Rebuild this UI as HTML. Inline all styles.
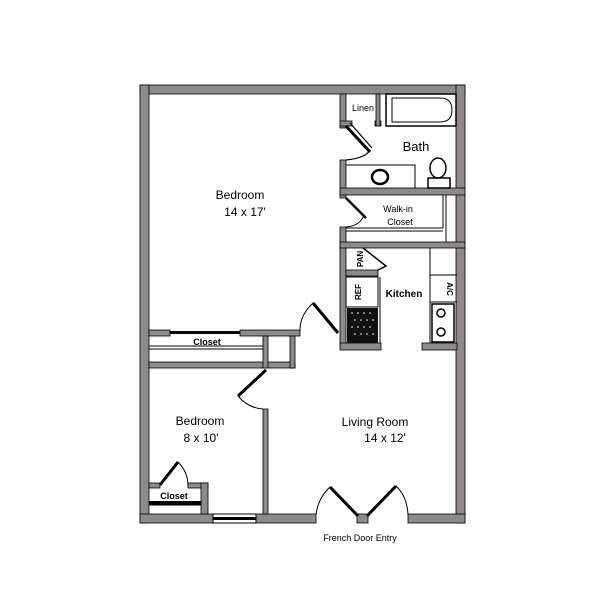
<!DOCTYPE html>
<html><head><style>body{margin:0;background:#fff}svg{display:block}</style></head><body>
<svg width="612" height="612" viewBox="0 0 612 612" xmlns="http://www.w3.org/2000/svg" font-family="Liberation Sans, sans-serif">
<g fill="#8e8a8b" stroke="#000" stroke-width="0.8">
<rect x="140" y="85" width="325" height="9"/>
<rect x="140" y="85" width="9" height="438"/>
<rect x="456" y="85" width="9" height="438"/>
<rect x="140" y="514" width="73" height="9"/>
<rect x="256" y="514" width="60" height="9"/>
<rect x="408" y="514" width="57" height="9"/>
<rect x="357" y="514" width="11" height="9"/>
<rect x="340" y="94" width="6" height="34"/>
<rect x="340" y="160" width="6" height="38"/>
<rect x="340" y="227" width="6" height="121"/>
<rect x="340" y="121" width="12" height="5"/>
<rect x="375" y="121" width="6" height="5"/>
<rect x="376" y="94" width="4" height="32"/>
<rect x="340" y="188" width="125" height="7"/>
<rect x="340" y="242" width="125" height="6"/>
<rect x="346" y="270" width="32" height="6"/>
<rect x="340" y="343" width="41" height="7"/>
<rect x="422" y="343" width="35" height="7"/>
<rect x="149" y="330" width="21" height="6"/>
<rect x="240" y="330" width="60" height="6"/>
<rect x="149" y="362" width="146" height="6"/>
<rect x="263" y="336" width="5" height="32"/>
<rect x="290" y="336" width="5" height="32"/>
<rect x="263" y="409" width="5" height="105"/>
<rect x="149" y="483" width="11" height="5"/>
<rect x="188" y="483" width="20" height="5"/>
<rect x="201" y="483" width="7" height="31"/>
</g>
<g fill="none" stroke="#000" stroke-width="1">
<rect x="386" y="94" width="70" height="32" stroke-width="1.5"/>
<path d="M392,98 H440 Q452,98 452,110 Q452,122 440,122 H392 Z"/>
<path d="M346,165 H415 V188"/>
<ellipse cx="380" cy="177" rx="8" ry="7" stroke-width="2.5"/>
<ellipse cx="438" cy="168" rx="8" ry="10" stroke-width="1.5"/>
<rect x="428" y="178" width="22" height="10" stroke-width="1.5"/>
<path d="M346,228 H443 V195"/><path d="M446,195 V242"/><path d="M346,231 H443"/>
<rect x="346" y="277" width="32" height="30"/>
<path d="M380,277 V343"/>
<path d="M430,248 V343 M430,275 H457 M430,302 H457"/>
<rect x="432" y="304" width="22" height="38" stroke-width="1.5"/>
<path d="M149,346 H263 M149,349 H263" />
<path d="M149,505 H201"/>
<path d="M346,126 L370,152" stroke-width="3"/><path d="M350,123 L372,148" stroke-width="1.2"/>
<path d="M370,150 Q366,158 346,160" stroke-width="1.2"/>
<path d="M346,198 L366,218" stroke-width="2.5"/><path d="M364,215 Q360,226 346,227"/>
<path d="M363,248 L386,266 L378,270" stroke-width="1.5"/>
<path d="M338,333 L313,303" stroke-width="3"/><path d="M313,303 Q300,315 300,330"/>
<path d="M266,370 L238,396" stroke-width="3"/><path d="M238,396 Q248,408 263,409"/>
<path d="M160,485 L178,462" stroke-width="3"/><path d="M178,462 Q188,472 188,486"/>
<path d="M358,516 L330,487" stroke-width="3"/><path d="M330,487 Q318,498 316,515"/>
<path d="M367,516 L396,486" stroke-width="3"/><path d="M396,486 Q407,496 408,515"/>
</g>
<rect x="170" y="331" width="70" height="3" fill="#000"/>
<rect x="149" y="501" width="52" height="4" fill="#000"/>
<rect x="213" y="514" width="43" height="9" fill="#fff" stroke="#000"/>
<rect x="213" y="517" width="43" height="3" fill="#000"/>
<rect x="347" y="308" width="31" height="35" fill="#111"/>
<g fill="#fff"><circle cx="352" cy="313" r="0.8"/><circle cx="358" cy="313" r="0.8"/><circle cx="364" cy="313" r="0.8"/><circle cx="370" cy="313" r="0.8"/><circle cx="355" cy="320" r="0.8"/><circle cx="361" cy="320" r="0.8"/><circle cx="367" cy="320" r="0.8"/><circle cx="373" cy="320" r="0.8"/><circle cx="352" cy="327" r="0.8"/><circle cx="358" cy="327" r="0.8"/><circle cx="364" cy="327" r="0.8"/><circle cx="370" cy="327" r="0.8"/><circle cx="355" cy="334" r="0.8"/><circle cx="361" cy="334" r="0.8"/><circle cx="367" cy="334" r="0.8"/><circle cx="373" cy="334" r="0.8"/></g>
<circle cx="441" cy="313" r="4" fill="none" stroke="#000" stroke-width="1.5"/>
<circle cx="441" cy="332" r="4" fill="none" stroke="#000" stroke-width="1.5"/>
<g fill="#000" font-size="12" text-anchor="middle">
<text x="240" y="199">Bedroom</text><text x="245" y="216">14 x 17'</text>
<text x="416" y="151" font-size="13">Bath</text>
<text x="363" y="111" font-size="9">Linen</text>
<text x="398" y="212" font-size="9">Walk-in</text><text x="400" y="225" font-size="9">Closet</text>
<text x="404" y="297" font-size="10" font-weight="bold">Kitchen</text>
<text x="375" y="426">Living Room</text><text x="385" y="442">14 x 12'</text>
<text x="200" y="425">Bedroom</text><text x="201" y="442">8 x 10'</text>
<text x="360" y="541" font-size="9">French Door Entry</text>
<text x="207" y="345" font-size="9" font-weight="bold">Closet</text>
<text x="174" y="499" font-size="9" font-weight="bold">Closet</text>
<text transform="translate(363,259) rotate(-90)" font-size="8" font-weight="bold">PAN</text>
<text transform="translate(361,292) rotate(-90)" font-size="8" font-weight="bold">REF</text>
<text transform="translate(447,289) rotate(90)" font-size="8" font-weight="bold">A/C</text>
</g>
</svg>
</body></html>
